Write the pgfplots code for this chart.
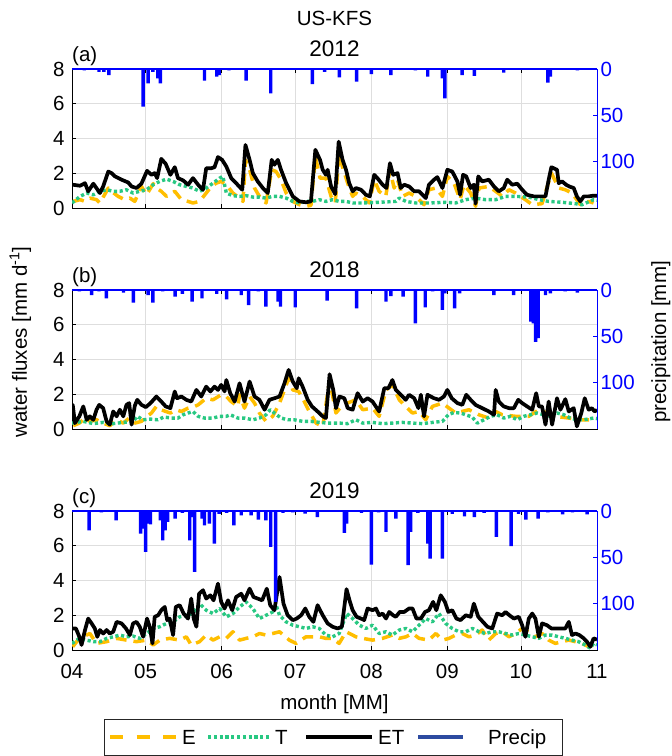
\documentclass[border=0pt]{standalone}
\usepackage{fontspec}
\setmainfont{Liberation Sans}
\usepackage{pgfplots}
\pgfplotsset{compat=1.18}
\definecolor{Ecol}{RGB}{255,190,0}
\definecolor{Tcol}{RGB}{40,200,130}
\definecolor{Pcol}{RGB}{0,0,255}
\definecolor{Pleg}{RGB}{45,75,160}
\definecolor{gridc}{RGB}{222,222,222}
\newcommand{\fs}{\fontsize{20.5}{24}\selectfont}
\newcommand{\tfs}{\fontsize{22.5}{26}\selectfont}
\pgfplotsset{
  panel/.style={
    width=525pt, height=139pt, scale only axis,
    xmin=0, xmax=214, ymin=0, ymax=8,
    xtick={0,30,61,91,122,153,183,214},
    ytick={0,2,4,6,8}, ytick pos=left,
    grid=major, major grid style={draw=gridc, line width=0.7pt},
    tick align=inside, major tick length=4pt,
    axis line style={line width=0.8pt},
    every tick/.style={black, line width=0.8pt},
    /pgf/number format/assume math mode=true,
    yticklabel style={font=\fs, xshift=-4pt},
    xticklabel style={font=\fs, yshift=-10.5pt},
    xticklabels={},
  },
  precip/.style={
    width=525pt, height=139pt, scale only axis,
    xmin=0, xmax=214, ymin=0, ymax=150, y dir=reverse,
    axis y line*=right, axis x line=none,
    ytick={0,50,100}, clip=false,
    tick align=inside, major tick length=4pt,
    /pgf/number format/assume math mode=true,
    yticklabel style={font=\fs, text=Pcol},
    y axis line style={draw=Pcol, line width=0.8pt},
    ytick style={draw=Pcol, line width=0.8pt},
  },
  Est/.style={Ecol, line width=3.5pt, dash pattern=on 11pt off 7pt, line join=round},
  Tst/.style={Tcol, line width=3.4pt, dash pattern=on 3.2pt off 2.6pt, line join=round},
  ETst/.style={black, line width=3.7pt, line join=round},
  Pst/.style={ybar, bar width=1.4, bar shift=0pt, fill=Pcol, draw=none, forget plot},
}
\begin{document}
\begin{tikzpicture}
\useasboundingbox (0pt,-756pt) rectangle (672pt,0pt);

% ---------------- (a) 2012
\begin{axis}[panel, at={(72pt,-208pt)}, anchor=south west]
\addplot[Est] coordinates {(0.5,0.38)(3.3,0.48)(5.3,0.38)(7.3,0.57)(10,0.48)(11.4,0.29)(14.8,1.15)(16.1,0.96)(18.8,0.67)(21.5,0.48)(23.6,0.57)(25.6,0.38)(28.3,1.24)(30.4,0.76)(33.1,1.40)(34.4,1.15)(36.4,0.96)(38.5,0.67)(40.5,0.86)(41.9,0.96)(44.6,0.48)(47.3,0.38)(49.3,0.29)(52,0.38)(54.7,0.86)(56.8,1.24)(58.8,1.43)(60.8,1.53)(62.9,1.34)(65.6,0.86)(68.3,0.57)(69.7,0.38)(70.7,2.77)(72.4,2.20)(74.4,1.15)(76.4,0.67)(79.1,0.29)(81.4,2.20)(83.2,2.10)(85.2,1.63)(87.3,0.86)(90,0.38)(92.7,0.19)(95.4,0.10)(97.4,0.15)(99.2,2.96)(101.1,1.72)(103.5,1.72)(105.6,0.67)(107.3,0.29)(108.9,3.15)(110.2,2.39)(113,1.15)(114.4,0.67)(115.7,0.86)(118.4,0.67)(121.2,0.29)(123.2,1.63)(125.2,0.96)(127.9,0.67)(129.6,2.20)(131.3,1.15)(132.7,1.63)(134.7,0.67)(137.4,0.86)(140.1,0.67)(143.5,0.19)(145.5,1.05)(148.3,1.15)(151,0.67)(153,1.82)(155.7,1.43)(158.2,0.48)(159.8,1.34)(162.5,0.86)(164.5,0.10)(165.9,1.15)(169.9,1.24)(172.7,0.96)(175.4,0.67)(178.1,1.05)(180.8,0.86)(184.8,0.48)(187.6,0.19)(191.6,0.25)(195.4,2.01)(198.4,1.15)(201.1,1.05)(203.8,0.86)(207.2,0.19)(210.6,0.38)(212.6,0.29)};
\addplot[Tst] coordinates {(0,0.29)(3.3,0.67)(6,0.86)(8.7,0.76)(11.4,0.96)(14.1,1.05)(16.8,0.96)(19.5,0.96)(22.2,1.05)(24.9,0.86)(27.6,0.96)(30.4,1.05)(33.1,1.34)(35.8,1.53)(38.5,1.66)(41.2,1.53)(43.9,1.34)(46.6,1.24)(49.3,1.15)(52,0.96)(54.7,1.15)(57.5,1.43)(60.2,1.72)(61.5,1.82)(62.9,0.86)(65.6,0.71)(68.3,0.67)(71,0.71)(73.7,0.63)(76.4,0.63)(79.1,0.57)(81.8,0.67)(84.6,0.67)(87.3,0.57)(90,0.38)(92.7,0.29)(95.4,0.38)(98.1,0.38)(100.8,0.48)(103.5,0.38)(106.2,0.48)(108.9,0.38)(111.7,0.38)(114.4,0.29)(118.4,0.29)(125.2,0.33)(132,0.38)(133.4,0.57)(136.1,0.38)(140.1,0.29)(145.5,0.29)(152.3,0.33)(156.4,0.29)(160.5,0.48)(164.5,0.57)(168.6,0.48)(172.7,0.48)(176.7,0.67)(180.8,0.67)(186.2,0.63)(190.3,0.48)(194.3,0.38)(199.8,0.33)(205.2,0.25)(207.9,0.19)(212.6,0.48)(214,0.45)};
\addplot[ETst] coordinates {(0,1.34)(0.3,1.34)(3.3,1.28)(5.3,1.43)(6.6,0.96)(8.7,1.40)(11.4,0.86)(12.7,1.24)(14.8,2.10)(16.1,2.01)(17.5,1.82)(20.2,1.63)(22.9,1.47)(24.3,1.24)(26.3,1.15)(28.3,1.40)(30.6,2.14)(32.4,1.91)(33.7,2.01)(34.7,1.72)(36.4,2.83)(38.2,2.54)(40.1,1.91)(41.9,2.35)(43.2,1.72)(45.3,1.59)(47.3,1.34)(49.3,1.72)(51.4,1.34)(53.4,1.05)(54.7,2.29)(56.8,2.29)(58.1,2.35)(59.5,2.93)(61.2,2.77)(62.9,2.39)(64.9,1.72)(66.9,1.43)(69.4,1.05)(70.7,3.63)(72.4,2.77)(73.7,2.01)(75.7,1.53)(77.8,1.15)(79.8,0.86)(81.4,2.77)(82.5,2.49)(83.9,2.77)(85.2,2.20)(87.3,1.43)(90,0.67)(92.7,0.38)(95.4,0.33)(97.4,0.38)(99.2,3.35)(101.1,2.77)(102.2,2.20)(103.5,1.91)(104.2,2.20)(105.6,1.24)(107.3,0.80)(108.7,3.82)(110.3,2.77)(111.7,2.20)(113,1.43)(114.4,0.96)(115.7,1.15)(117.8,1.05)(119.8,0.76)(121.4,0.67)(123.2,1.91)(124.5,1.72)(126.6,1.34)(128.2,1.15)(129.6,2.58)(130.9,1.91)(132.7,2.01)(134,1.15)(135.4,1.34)(137.4,1.24)(139.5,0.96)(141.5,0.96)(144.2,0.57)(145.5,1.34)(147.6,1.63)(148.9,1.78)(151,1.15)(153,2.20)(155,2.10)(157.1,1.53)(158.2,0.76)(159.4,1.91)(160.7,1.82)(162.5,1.15)(163.8,1.34)(164.5,0.25)(165.6,1.82)(167.2,1.53)(169.9,1.63)(172,1.24)(174,0.96)(176,1.15)(177.4,1.63)(179.4,1.34)(181.5,1.40)(183.5,1.05)(185.5,0.76)(188.2,0.67)(190.3,0.67)(193,0.67)(194.3,1.63)(195.4,2.35)(197.7,2.20)(198.4,1.43)(199.8,1.53)(201.4,1.34)(202.7,1.24)(204.5,1.15)(205.8,0.67)(207.2,0.38)(208.6,0.67)(210.6,0.67)(212.6,0.71)(214,0.70)};
\end{axis}
\begin{axis}[precip, at={(72pt,-208pt)}, anchor=south west]
\addplot[Pst] coordinates {(1,1)(3,1)(5,1.5)(8,1)(11,3)(13,3)(15,6.5)(19,1)(24,1)(29,40.6)(31,15.4)(33,3)(35,10)(36,15.4)(41,1)(46,1)(54,12.6)(59,8.3)(60,6.5)(64,1.5)(71,12.6)(76,1)(81,26.2)(88,1)(98,16.2)(103,3)(109,9)(112,1)(116,13.6)(122,5.4)(130,6.5)(137,1)(140,1.5)(145,8.3)(151,10)(152,31.6)(159,6.5)(164,7.5)(168,1)(176,4)(180,1)(186,1)(194,14.7)(195,8.3)(198,1)(201,1)(206,1.5)(210,1)};
\draw[Pcol, line width=1.8pt] (axis cs:0,0) -- (axis cs:214,0);
\end{axis}

% ---------------- (b) 2018
\begin{axis}[panel, at={(72pt,-429pt)}, anchor=south west]
\addplot[Est] coordinates {(0.5,0.19)(3,0.34)(5.3,0.63)(7.3,0.44)(10,0.53)(12.7,0.34)(15.4,0.19)(18.2,0.53)(20.9,0.34)(23.3,0.63)(25.6,0.34)(28.3,0.44)(30.6,0.73)(32.4,0.92)(34.4,1.30)(36.4,1.11)(38.2,1.01)(40.1,0.92)(42.3,1.11)(44.6,1.01)(47.3,1.20)(50,1.30)(51.4,1.39)(54.7,1.77)(57.5,1.68)(60.8,1.97)(62.9,1.87)(64.9,1.58)(67.6,1.30)(68.3,1.97)(70.3,1.20)(72.4,1.87)(74.4,1.49)(76.4,0.92)(79.1,0.44)(81.8,0.73)(84.6,1.49)(86.6,2.25)(88.3,2.92)(90,2.25)(92.4,2.16)(94.7,1.58)(96.7,1.01)(99.5,0.34)(102.2,0.15)(105,2.80)(107.6,0.92)(110.3,1.39)(115.7,1.68)(118.5,1.11)(122.5,1.20)(125.2,0.73)(128,2.25)(130.6,2.54)(133.4,1.68)(136,1.30)(138.8,0.92)(141.5,1.01)(144.2,0.53)(146.9,1.30)(151,1.49)(153.7,1.20)(156.4,0.92)(161.8,1.11)(165.9,0.82)(169.9,0.63)(172.7,1.01)(175.4,0.82)(180.8,0.73)(186.2,0.73)(190.3,1.11)(197,0.73)(202.5,0.63)(207.9,0.53)(212.6,0.53)};
\addplot[Tst] coordinates {(0,0.34)(4.6,0.44)(8.7,0.31)(12.7,0.38)(16.8,0.31)(20.9,0.38)(25,0.44)(26.6,0.73)(28.9,0.53)(32,0.57)(35,0.53)(37.5,0.69)(40.5,0.63)(43.2,0.63)(45.3,0.82)(47.3,0.92)(49.3,1.01)(51.4,0.73)(54,0.63)(57.5,0.63)(60.2,0.73)(62.9,0.73)(64.5,0.82)(67.6,0.63)(70.3,0.63)(73.7,0.53)(76.4,0.63)(79.1,0.82)(80.8,1.11)(82.5,0.92)(85.2,0.63)(88,0.53)(90.6,0.53)(94,0.44)(97.4,0.44)(101,0.38)(104.2,0.34)(108.9,0.34)(112.3,0.31)(115.7,0.53)(118.5,0.34)(122.5,0.38)(126.6,0.31)(130.6,0.34)(134.7,0.38)(138.8,0.34)(142.9,0.31)(147,0.38)(151,0.44)(153.4,0.82)(155.7,0.95)(158.4,0.92)(160.5,0.82)(163.1,0.69)(165.2,0.34)(167.9,0.53)(170.6,0.73)(173.3,0.82)(176,0.63)(178.7,0.73)(181.5,0.53)(184.1,0.73)(186.9,0.82)(189.6,0.92)(192.3,0.82)(195,0.73)(197.7,0.92)(200.5,0.82)(203.1,0.63)(205.8,0.53)(208.5,0.53)(212.6,0.63)(214,0.60)};
\addplot[ETst] coordinates {(0,1.39)(0.3,1.39)(1.2,0.34)(3,0.73)(4.6,1.30)(6,0.53)(7.3,0.73)(8.7,0.53)(10,1.11)(11.1,1.39)(12.7,1.20)(14.1,0.44)(15.4,0.25)(16.8,1.01)(18.2,0.73)(19.5,1.11)(20.9,0.73)(22.2,1.39)(23.3,1.49)(24.3,0.25)(25.6,1.34)(26.6,1.68)(28.3,1.39)(30.1,1.26)(32,1.49)(34.4,1.87)(36.4,1.58)(38.2,1.30)(40.1,1.20)(41.9,2.16)(42.8,1.77)(44.6,1.87)(46.6,1.68)(48.6,1.58)(50.7,2.25)(52.7,1.87)(54.7,2.44)(56.4,2.16)(58.1,2.44)(59.5,2.25)(60.8,2.54)(62.2,2.16)(62.9,2.82)(64.5,2.06)(66.3,1.58)(68.3,2.63)(70.3,1.58)(72.4,2.73)(74.4,1.87)(76.4,1.68)(78.5,1.11)(80.5,1.68)(82.5,1.77)(84.6,1.87)(86.6,2.63)(88.3,3.40)(90,2.73)(91.6,2.35)(92.4,2.92)(94,2.44)(96.1,1.68)(97.8,1.30)(100.1,1.01)(102.2,0.73)(103.5,0.63)(105,3.15)(106.5,2.25)(107.6,1.20)(109,1.87)(111,1.77)(112.4,1.20)(114.4,1.11)(116.4,2.06)(118.5,1.58)(120.5,1.77)(122.5,1.58)(125.2,1.01)(127.3,2.35)(129,2.35)(130.6,2.82)(132,2.25)(133.4,2.06)(136,1.68)(137.4,1.97)(139.5,1.77)(141.2,1.20)(142.2,1.97)(143.5,0.73)(144.9,1.97)(146.2,1.87)(147.6,1.77)(149.6,1.68)(151.6,1.87)(153,2.25)(154.8,1.77)(157.1,1.49)(159.1,1.39)(160.7,1.97)(162.5,1.68)(164.5,1.39)(167.2,1.20)(169.9,1.01)(172,0.82)(172.7,2.25)(174,1.58)(176,1.30)(178.1,1.20)(180.1,1.20)(181.9,1.68)(183.5,1.49)(185.5,1.30)(187.6,1.11)(189.2,2.06)(190.3,1.30)(191.6,1.30)(193,0.25)(194.3,1.58)(195.7,0.25)(197.7,1.77)(199.1,1.11)(201.1,1.72)(202.5,1.01)(204.5,1.20)(205.8,0.15)(207.6,0.92)(209,1.77)(210.6,1.11)(211.9,1.20)(213,1.01)(214,1.10)};
\end{axis}
\begin{axis}[precip, at={(72pt,-429pt)}, anchor=south west]
\addplot[Pst] coordinates {(3,1.5)(8,5.4)(11,1.5)(14,9)(17,1)(21,2.9)(25,13.6)(28,1)(31,5.4)(33,13.6)(37,1.5)(42,7.2)(45,4.3)(49,12.6)(53,9)(56,1)(59,4.3)(63,10)(66,1)(69,5.4)(72,16.2)(76,1.5)(79,18)(84,12.6)(85,18)(91,18.7)(95,1)(99,1)(104,11.5)(108,1)(112,1)(116,19.7)(122,1)(128,12.6)(130,6.5)(135,7.2)(140,35.9)(144,18.7)(147,1.5)(151,21.5)(152,3.6)(156,19.7)(158,3.6)(162,1)(167,1)(172,5.4)(176,1)(180,5.4)(187,34)(188,36)(189,56)(190,52)(193,5.4)(195,3.6)(198,1)(201,1.5)(206,2.9)(210,1)};
\draw[Pcol, line width=1.8pt] (axis cs:0,0) -- (axis cs:214,0);
\end{axis}

% ---------------- (c) 2019
\begin{axis}[panel, at={(72pt,-650pt)}, anchor=south west,
  xticklabels={04,05,06,07,08,09,10,11}]
\addplot[Est] coordinates {(0.3,0.19)(3,0.67)(7.3,0.95)(10,0.38)(14.1,0.48)(18.2,0.67)(22.2,0.57)(26.3,0.48)(30.4,0.57)(33.1,0.29)(35.8,0.57)(39.8,0.67)(43.9,0.57)(46.6,0.76)(48.6,0.29)(52,0.48)(54.7,0.86)(57.5,0.57)(60.2,0.76)(62.9,0.67)(65.6,1.05)(68.3,0.57)(71,0.67)(73.7,0.76)(76.4,0.95)(79.1,0.86)(81.8,0.95)(84.6,1.05)(88.6,0.57)(91.3,0.38)(95.4,0.76)(98.1,0.76)(100.8,0.76)(103.5,0.67)(106.2,0.67)(108.9,0.38)(111.7,1.05)(114.4,0.86)(115.7,0.76)(118.5,0.67)(122.5,0.57)(126.6,0.67)(130.6,0.86)(133.4,0.67)(136.1,0.76)(138.8,0.95)(141.5,0.67)(145.5,0.57)(148.3,0.95)(151,0.57)(153.7,0.67)(156.4,0.86)(159.1,0.95)(161.8,0.76)(164.5,0.86)(167.2,1.15)(169.9,0.57)(172.7,0.95)(175.4,1.05)(178.1,0.76)(180.8,0.95)(183.5,1.24)(186.2,1.05)(188.9,0.76)(191.6,0.95)(194.3,0.57)(197,0.38)(199.8,0.48)(202.5,0.57)(205.2,0.48)(207.9,0.38)(210.6,0.19)(212.6,0.29)};
\addplot[Tst] coordinates {(0,0.38)(3,0.67)(5.9,0.57)(8.7,0.48)(11.4,0.48)(14.1,0.67)(16.8,0.76)(19.5,0.86)(22.2,0.76)(24.9,0.80)(27.6,0.67)(30.4,0.95)(33.1,1.24)(35.8,1.34)(38.5,1.53)(41.2,1.62)(43.9,1.91)(46.6,2.00)(49.3,2.10)(52,2.67)(54.7,2.29)(57.5,2.10)(60.2,2.39)(62.9,1.91)(65.6,2.10)(68.3,2.48)(71,2.77)(73.7,2.39)(76.4,1.81)(79.1,2.00)(81.8,2.19)(83.2,2.58)(84.6,2.00)(87.3,1.62)(90,1.43)(92.7,1.34)(95.4,1.24)(98.1,1.34)(100.8,1.24)(103.5,0.86)(106.2,0.76)(108.9,0.95)(112,2.10)(114.4,1.81)(117.1,1.43)(119.8,1.24)(122.5,1.43)(125.2,0.95)(127.9,1.05)(130.6,0.86)(133.4,1.15)(136.1,1.24)(138.8,1.05)(141.5,1.43)(144.2,1.81)(146.9,1.62)(149.6,2.10)(152.3,1.53)(155,1.24)(157.7,1.05)(160.5,1.05)(163.2,1.24)(165.9,1.05)(168.6,0.95)(171.3,1.05)(174,1.05)(176.7,0.95)(179.4,0.86)(182.1,0.95)(184.8,0.86)(187.6,0.76)(190.3,0.67)(193,0.86)(195.7,0.86)(198.4,0.76)(201.1,0.67)(203.8,0.57)(206.5,0.48)(209.2,0.29)(211.3,0.10)(212.6,0.38)(214,0.30)};
\addplot[ETst] coordinates {(0,1.24)(0.3,1.24)(1.6,1.24)(3,0.76)(3.9,0.29)(5.3,1.15)(6.6,1.81)(8,1.53)(9.3,1.24)(10.3,0.76)(11.4,1.15)(12.7,0.95)(14.1,1.15)(15.4,0.95)(16.8,1.05)(18.2,1.62)(20.2,1.53)(22,1.24)(23.6,0.86)(24.9,1.53)(26.3,1.62)(27.6,1.34)(29,0.76)(30.6,1.81)(31.7,1.34)(32.8,0.38)(33.7,1.91)(35.1,2.00)(36.4,2.29)(37.8,2.48)(38.8,1.72)(39.8,1.81)(41.2,0.86)(42.3,2.48)(43.9,2.58)(45.5,2.10)(47.3,1.81)(48.6,2.96)(49.6,1.81)(50.7,1.34)(51.8,3.24)(53.4,3.44)(54.7,2.96)(56.4,3.15)(57.7,2.86)(59.5,3.82)(60.8,2.77)(62.2,2.39)(63.6,2.86)(65.3,2.29)(66.9,3.05)(69,3.24)(70.3,2.86)(72.4,3.53)(74,3.05)(75.7,2.96)(77.5,2.86)(79.4,3.53)(80.8,2.58)(82.5,2.29)(84.6,4.20)(86.2,2.67)(87.9,2.00)(90,1.72)(91.6,1.81)(93.4,2.00)(95.1,2.39)(96.7,1.91)(98.4,1.62)(100.1,2.58)(102.2,2.00)(104.2,1.53)(106.2,1.34)(108.3,1.24)(110,1.34)(111.9,3.50)(113.3,2.77)(114.4,2.29)(116,1.91)(117.8,1.81)(119.1,1.72)(120.5,2.39)(122.5,2.29)(123.9,2.39)(125.2,2.00)(126.6,2.10)(128,1.81)(129.3,2.19)(130.9,2.00)(132,1.91)(133.6,2.19)(135.4,2.19)(137.4,2.39)(138.8,2.39)(140.4,1.81)(142.2,1.81)(143.9,2.19)(145.5,2.29)(147.2,2.77)(148.5,2.29)(150.3,3.15)(152,2.77)(153.4,2.19)(155,2.29)(156.7,1.81)(158.4,1.72)(160.5,2.00)(162.5,1.91)(163.8,2.67)(165.6,1.91)(167.5,1.62)(169.3,1.34)(171.3,1.24)(173.3,2.10)(175.4,2.00)(176.7,2.19)(178.3,2.00)(180.1,1.81)(182.1,1.91)(183.5,1.43)(184.8,0.76)(186.2,1.81)(187.6,2.10)(188.9,1.81)(190.3,0.76)(191.6,1.53)(193.6,1.43)(195.4,1.24)(197,1.24)(199.1,1.24)(201.1,1.24)(202.5,1.62)(203.8,0.86)(205.2,0.95)(206.8,0.86)(208.6,0.67)(209.9,0.48)(211.3,0.19)(212.6,0.67)(214,0.60)};
\end{axis}
\begin{axis}[precip, at={(72pt,-650pt)}, anchor=south west]
\addplot[Pst] coordinates {(2,1)(7,20.8)(12,1.5)(18,10)(22,1)(28,24.4)(29,19)(30,44)(31,13.6)(32,14.4)(36,10)(37,31.6)(38,20.8)(39,11.8)(42,8.3)(45,2)(48,31.6)(49,6.5)(50,65.7)(53,8.3)(54,15.4)(56,13.6)(58,35.2)(60,3)(63,2)(66,15.4)(69,4.7)(73,4.7)(76,9.3)(79,10)(81,38.8)(83,98)(86,2)(90,1.5)(95,2.9)(100,6.5)(104,1)(111,23.7)(112,13.6)(118,2)(122,57.8)(125,1.5)(128,22.6)(132,8.3)(137,58.5)(138,22.6)(141,2)(145,35.2)(146,51.3)(151,51.3)(155,3)(160,5.7)(164,6.5)(168,2)(173,28)(179,38)(182,3)(185,9.3)(190,8.3)(194,1.5)(200,3.6)(204,1.5)(210,3.6)(212,1)};
\draw[Pcol, line width=1.8pt] (axis cs:0,0) -- (axis cs:214,0);
\end{axis}

% ---------------- titles and labels
\node[font=\fs, anchor=base] at (334.5pt,-25pt) {US-KFS};
\node[font=\tfs, anchor=base] at (334.5pt,-56pt) {2012};
\node[font=\tfs, anchor=base] at (334.5pt,-277pt) {2018};
\node[font=\tfs, anchor=base] at (334.5pt,-498pt) {2019};
\node[font=\fs, anchor=base west, inner sep=0pt] at (72pt,-61pt) {(a)};
\node[font=\fs, anchor=base west, inner sep=0pt] at (72pt,-282pt) {(b)};
\node[font=\fs, anchor=base west, inner sep=0pt] at (72pt,-503pt) {(c)};
\node[font=\fs, anchor=base] at (334.5pt,-709.5pt) {month [MM]};
\node[font=\fs, anchor=base, rotate=90, inner sep=0pt] at (27pt,-342pt) {water fluxes [mm d\textsuperscript{-1}]};
\node[font=\fs, anchor=base, rotate=90, inner sep=0pt] at (666pt,-342pt) {precipitation [mm]};

% ---------------- legend
\draw[draw={rgb,255:red,38;green,38;blue,38}, line width=0.8pt, fill=white] (104pt,-719pt) rectangle (562pt,-755pt);
\draw[Ecol, line width=3.5pt, dash pattern=on 13pt off 13.5pt] (110pt,-737pt) -- (176pt,-737pt);
\node[font=\fs, anchor=base west, inner sep=0pt] at (182pt,-744.5pt) {E};
\draw[Tcol, line width=3.4pt, dash pattern=on 3.2pt off 2.6pt] (208pt,-737pt) -- (270pt,-737pt);
\node[font=\fs, anchor=base west, inner sep=0pt] at (275pt,-744.5pt) {T};
\draw[black, line width=3.5pt] (306pt,-737pt) -- (372pt,-737pt);
\node[font=\fs, anchor=base west, inner sep=0pt] at (378pt,-744.5pt) {ET};
\draw[Pleg, line width=3.5pt] (418pt,-737pt) -- (463pt,-737pt);
\node[font=\fs, anchor=base west, inner sep=0pt] at (488pt,-744.5pt) {Precip};
\end{tikzpicture}
\end{document}
